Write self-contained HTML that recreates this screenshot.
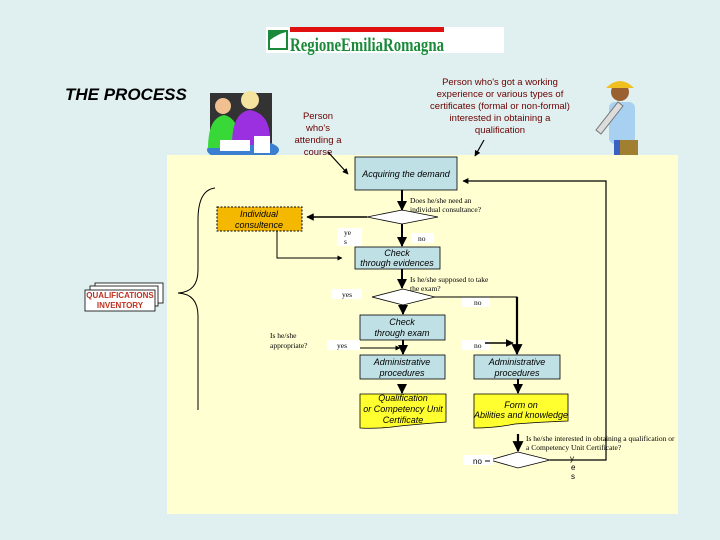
<!DOCTYPE html>
<html><head><meta charset="utf-8"><style>
html,body{margin:0;padding:0;background:#e0f0f0;}
svg{display:block}
text{font-family:"Liberation Sans",sans-serif;}
.s{font-family:"Liberation Serif",serif;font-size:7.5px;fill:#000}
.b{font-size:9px;font-style:italic;fill:#000}
.r{font-size:9.5px;fill:#6b0000}
</style></head><body>
<svg width="720" height="540" viewBox="0 0 720 540" xmlns="http://www.w3.org/2000/svg">
<defs>
<marker id="a" viewBox="0 0 10 10" refX="9" refY="5" markerWidth="5" markerHeight="5" orient="auto"><path d="M0,0L10,5L0,10z" fill="#000"/></marker>
</defs>
<rect width="720" height="540" fill="#e0f0f0"/>
<!-- logo -->
<rect x="266" y="27" width="238" height="26" fill="#fff"/>
<rect x="290" y="27" width="154" height="5" fill="#e01010"/>
<rect x="268" y="30" width="20" height="20" fill="#1a8a3a"/>
<path d="M270,40 Q278,34 286,32 L286,48 L270,48z" fill="#fff"/>
<text x="290" y="51" style="font-family:'Liberation Serif',serif;font-weight:bold;font-size:19px;fill:#1a8a3a" textLength="154" lengthAdjust="spacingAndGlyphs">RegioneEmiliaRomagna</text>
<!-- title -->
<text x="65" y="100" style="font-weight:bold;font-style:italic;font-size:17px;fill:#000">THE PROCESS</text>
<!-- clip art left -->
<rect x="210" y="93" width="62" height="52" fill="#333"/>
<ellipse cx="243" cy="150" rx="36" ry="11" fill="#3a7fd0"/>
<path d="M208,148 Q208,118 224,115 Q240,118 240,148z" fill="#38d838"/>
<circle cx="223" cy="106" r="8" fill="#f0c090"/>
<path d="M232,145 Q232,112 250,110 Q272,114 270,145z" fill="#9a30e0"/>
<circle cx="250" cy="100" r="9" fill="#f4e4a0"/>
<rect x="220" y="140" width="30" height="11" fill="#fff"/>
<rect x="254" y="136" width="16" height="17" fill="#fff"/>
<!-- clip art right -->
<circle cx="620" cy="92" r="9" fill="#9a6030"/>
<path d="M606,88 Q620,74 634,88z" fill="#f0c020"/>
<rect x="609" y="102" width="26" height="42" rx="6" fill="#a8d0f0"/>
<rect x="614" y="140" width="16" height="22" fill="#3a60c0"/>
<rect x="620" y="140" width="18" height="20" fill="#a08030"/>
<path d="M596,130 L618,102 L623,106 L601,134z" fill="#ddd" stroke="#777" stroke-width="1"/>
<!-- texts top -->
<g text-anchor="middle">
<text x="318" y="119" class="r">Person</text>
<text x="318" y="131" class="r">who's</text>
<text x="318" y="143" class="r">attending a</text>
<text x="318" y="155" class="r">course</text>
<text x="500" y="85" class="r">Person who's got a working</text>
<text x="500" y="97" class="r">experience  or various types of</text>
<text x="500" y="109" class="r">certificates (formal or non-formal)</text>
<text x="500" y="121" class="r">interested in obtaining a</text>
<text x="500" y="133" class="r">qualification</text>
</g>
<!-- panel -->
<rect x="167" y="155" width="511" height="359" fill="#ffffd2"/>
<line x1="328" y1="152" x2="348" y2="174" stroke="#000" stroke-width="1.2" marker-end="url(#a)"/>
<line x1="484" y1="140" x2="475" y2="156" stroke="#000" stroke-width="1.2" marker-end="url(#a)"/>
<!-- boxes -->
<g stroke="#000" stroke-width="0.8" fill="#bfe0e4">
<rect x="355" y="157" width="102" height="33"/>
<rect x="355" y="247" width="85" height="22"/>
<rect x="360" y="315" width="85" height="25"/>
<rect x="360" y="355" width="85" height="24"/>
<rect x="474" y="355" width="86" height="24"/>
</g>
<rect x="217" y="207" width="85" height="24" fill="#f5b800" stroke="#000" stroke-width="1" stroke-dasharray="2,1.5"/>
<g fill="#ffff30" stroke="#000" stroke-width="0.8">
<path d="M360,394 L446,394 L446,422 Q420,424 400,426 Q380,429 360,428z"/>
<path d="M474,394 L568,394 L568,421 Q540,422 515,424 Q495,428 474,428z"/>
</g>
<!-- diamonds -->
<g fill="#fff" stroke="#000" stroke-width="0.8">
<path d="M367,217 L402,210 L438,217 L402,224z"/>
<path d="M372,297 L403,289 L435,297 L403,305z"/>
<path d="M490,460 L518,452 L550,460 L518,468z"/>
</g>
<!-- white labels -->
<g fill="#fff">
<rect x="337" y="228" width="25" height="18"/>
<rect x="412" y="233" width="22" height="10"/>
<rect x="332" y="289" width="30" height="10"/>
<rect x="462" y="297" width="28" height="10"/>
<rect x="327" y="340" width="33" height="10"/>
<rect x="462" y="340" width="28" height="10"/>
<rect x="463" y="455" width="30" height="10"/>
</g>
<!-- connectors -->
<g stroke="#000" fill="none">
<line x1="402" y1="190" x2="402" y2="210" stroke-width="2" marker-end="url(#a)"/>
<line x1="367" y1="217" x2="307" y2="217" stroke-width="1.5" marker-end="url(#a)"/>
<line x1="402" y1="224" x2="402" y2="246" stroke-width="2" marker-end="url(#a)"/>
<polyline points="277,231 277,258 342,258" stroke-width="1" marker-end="url(#a)"/>
<line x1="402" y1="269" x2="402" y2="288" stroke-width="2" marker-end="url(#a)"/>
<polyline points="435,297 517,297 517,340" stroke-width="1"/>
<line x1="403" y1="305" x2="403" y2="314" stroke-width="2" marker-end="url(#a)"/>
<line x1="403" y1="340" x2="403" y2="354" stroke-width="2" marker-end="url(#a)"/>
<line x1="360" y1="348" x2="400" y2="348" stroke-width="1" marker-end="url(#a)"/>
<line x1="517" y1="297" x2="517" y2="354" stroke-width="2.2" marker-end="url(#a)"/>
<line x1="485" y1="343" x2="513" y2="343" stroke-width="1.6" marker-end="url(#a)"/>
<line x1="402" y1="384" x2="402" y2="393" stroke-width="2" marker-end="url(#a)"/>
<line x1="518" y1="379" x2="518" y2="393" stroke-width="2" marker-end="url(#a)"/>
<line x1="518" y1="434" x2="518" y2="451" stroke-width="2.2" marker-end="url(#a)"/>
<line x1="490" y1="461" x2="485" y2="461" stroke-width="1"/>
<polyline points="550,460 606,460 606,181 463,181" stroke-width="1.2" marker-end="url(#a)"/>
<path d="M215,188 Q198,190 198,220 L198,270 Q198,292 178,293 Q198,294 198,316 L198,410" stroke-width="1"/>
</g>
<!-- inventory -->
<g fill="#fff" stroke="#000" stroke-width="0.8">
<rect x="95" y="283" width="68" height="20"/>
<rect x="90" y="286" width="68" height="20"/>
<rect x="85" y="290" width="70" height="21"/>
</g>
<text x="120" y="298" text-anchor="middle" style="font-size:8px;font-weight:bold;fill:#c03020">QUALIFICATIONS</text>
<text x="120" y="308" text-anchor="middle" style="font-size:8px;font-weight:bold;fill:#c03020">INVENTORY</text>
<!-- box texts -->
<g text-anchor="middle">
<text x="406" y="177" class="b">Acquiring the demand</text>
<text x="259" y="217" class="b">Individual</text>
<text x="259" y="228" class="b">consultence</text>
<text x="397" y="256" class="b">Check</text>
<text x="397" y="266" class="b">through evidences</text>
<text x="402" y="325" class="b">Check</text>
<text x="402" y="336" class="b">through exam</text>
<text x="402" y="365" class="b">Administrative</text>
<text x="402" y="376" class="b">procedures</text>
<text x="517" y="365" class="b">Administrative</text>
<text x="517" y="376" class="b">procedures</text>
<text x="403" y="401" class="b">Qualification</text>
<text x="403" y="412" class="b">or Competency Unit</text>
<text x="403" y="423" class="b">Certificate</text>
<text x="521" y="408" class="b">Form on</text>
<text x="521" y="418" class="b">Abilities and knowledge</text>
</g>
<!-- small serif labels -->
<text x="410" y="203" class="s">Does he/she need an</text>
<text x="410" y="212" class="s">individual consultance?</text>
<text x="344" y="235" class="s">ye</text>
<text x="344" y="244" class="s">s</text>
<text x="418" y="241" class="s">no</text>
<text x="342" y="297" class="s">yes</text>
<text x="410" y="282" class="s">Is he/she supposed to take</text>
<text x="410" y="291" class="s">the exam?</text>
<text x="474" y="305" class="s">no</text>
<text x="270" y="338" class="s">Is he/she</text>
<text x="270" y="348" class="s">appropriate?</text>
<text x="337" y="348" class="s">yes</text>
<text x="474" y="348" class="s">no</text>
<text x="526" y="441" class="s">Is he/she  interested in obtaining a qualification or</text>
<text x="526" y="450" class="s">a Competency Unit Certificate?</text>
<text x="473" y="464" style="font-size:8px">no</text>
<text x="570" y="461" style="font-size:8px">y</text>
<text x="571" y="470" style="font-size:8px">e</text>
<text x="571" y="479" style="font-size:8px">s</text>
</svg>
</body></html>
